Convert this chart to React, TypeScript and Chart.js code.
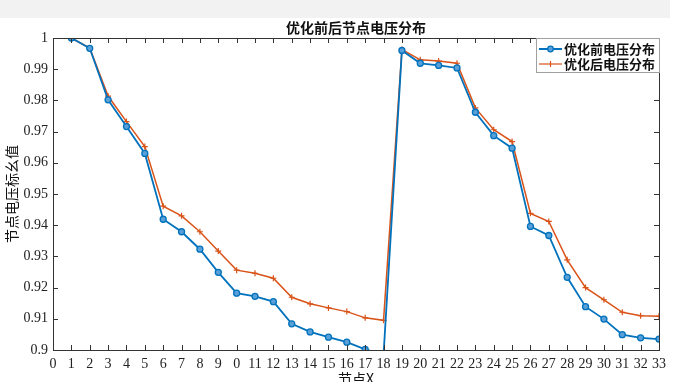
import React, { useEffect, useRef } from "react";
import { Chart, registerables } from "chart.js";

Chart.register(...registerables);

const nodes = [1,2,3,4,5,6,7,8,9,10,11,12,13,14,15,16,17,18,19,20,21,22,23,24,25,26,27,28,29,30,31,32,33];
const before = [1.0,0.9967,0.9802,0.9716,0.9630,0.9419,0.9379,0.9323,0.9249,0.9182,0.9172,0.9155,0.9084,0.9058,0.9041,0.9025,0.9002,0.8985,0.9960,0.9919,0.9912,0.9904,0.9762,0.9687,0.9647,0.9396,0.9367,0.9233,0.9139,0.9099,0.9049,0.9039,0.9035];
const after = [1.0,0.9968,0.9814,0.9732,0.9652,0.9461,0.9430,0.9379,0.9317,0.9256,0.9246,0.9230,0.9169,0.9148,0.9135,0.9123,0.9103,0.9095,0.9963,0.9930,0.9926,0.9919,0.9776,0.9706,0.9668,0.9438,0.9412,0.9289,0.9200,0.9161,0.9121,0.9110,0.9108];
const xTickLabels = ["0","1","2","3","4","5","6","7","8","9","0","11","12","13","14","15","16","17","18","19","20","21","22","23","24","25","26","27","28","29","30","31","32","33"];
const yTickValues = [0.9,0.91,0.92,0.93,0.94,0.95,0.96,0.97,0.98,0.99,1];
const yTickLabels = ["0.9","0.91","0.92","0.93","0.94","0.95","0.96","0.97","0.98","0.99","1"];
const seriesNames = ["优化前电压分布", "优化后电压分布"];
const titleText = "优化前后节点电压分布";
const xTitle = "节点X";
const yTitle = "节点电压标幺值";

const BLUE = "#0072BD";
const ORANGE = "#D95319";
const AXIS = "#333333";
const CJK = '"Noto Sans CJK SC", sans-serif';
const NUM = '"Liberation Serif", "DejaVu Serif", serif';

const decor = {
  id: "decor",
  beforeDraw(chart: any) {
    const ctx = chart.ctx;
    ctx.save();
    ctx.fillStyle = "#ffffff";
    ctx.fillRect(0, 0, chart.width, chart.height);
    ctx.fillStyle = "#f2f2f2";
    ctx.fillRect(0, 0, 670, 18);
    ctx.restore();
  },
  afterDraw(chart: any) {
    const ctx = chart.ctx;
    const a = chart.chartArea;
    const xs = chart.scales.x;
    const ys = chart.scales.y;
    ctx.save();
    // box
    ctx.strokeStyle = AXIS;
    ctx.lineWidth = 1;
    ctx.strokeRect(Math.round(a.left) + 0.5, Math.round(a.top) + 0.5, Math.round(a.right - a.left), Math.round(a.bottom - a.top));
    // inward ticks
    const tl = 5;
    ctx.beginPath();
    for (let i = 0; i < xTickLabels.length; i++) {
      const px = Math.round(xs.getPixelForValue(i)) + 0.5;
      ctx.moveTo(px, a.bottom);
      ctx.lineTo(px, a.bottom - tl);
      ctx.moveTo(px, a.top);
      ctx.lineTo(px, a.top + tl);
    }
    for (const v of yTickValues) {
      const py = Math.round(ys.getPixelForValue(v)) + 0.5;
      ctx.moveTo(a.left, py);
      ctx.lineTo(a.left + tl, py);
      ctx.moveTo(a.right, py);
      ctx.lineTo(a.right - tl, py);
    }
    ctx.stroke();
    // title
    ctx.fillStyle = "#111";
    ctx.textAlign = "center";
    ctx.textBaseline = "middle";
    ctx.font = "bold 14px " + CJK;
    ctx.fillText(titleText, (a.left + a.right) / 2, 28);
    // x title
    ctx.font = "14px " + CJK;
    ctx.fillText(xTitle, (a.left + a.right) / 2, 379);
    // y title
    ctx.save();
    ctx.translate(12, (a.top + a.bottom) / 2);
    ctx.rotate(-Math.PI / 2);
    ctx.font = "14px " + CJK;
    ctx.fillText(yTitle, 0, 0);
    ctx.restore();
    // legend
    const lx = 536, ly = Math.round(a.top) + 0.5, lw = 123, lh = 34;
    ctx.fillStyle = "#ffffff";
    ctx.fillRect(lx, ly, lw, lh);
    ctx.strokeStyle = "#a0a0a0";
    ctx.lineWidth = 1;
    ctx.strokeRect(lx + 0.5, ly, lw, lh);
    const rows = [49, 64];
    const cols = [BLUE, ORANGE];
    for (let i = 0; i < 2; i++) {
      const y = rows[i];
      ctx.strokeStyle = cols[i];
      ctx.lineWidth = i === 0 ? 2 : 1.2;
      ctx.beginPath();
      ctx.moveTo(539, y);
      ctx.lineTo(562, y);
      ctx.stroke();
      if (i === 0) {
        ctx.beginPath();
        ctx.arc(550.5, y, 2.8, 0, Math.PI * 2);
        ctx.fillStyle = "#5aa0d8";
        ctx.fill();
        ctx.lineWidth = 1.3;
        ctx.stroke();
      } else {
        ctx.beginPath();
        ctx.moveTo(550.5, y - 3);
        ctx.lineTo(550.5, y + 3);
        ctx.stroke();
      }
      ctx.fillStyle = "#111";
      ctx.textAlign = "left";
      ctx.font = "bold 13px " + CJK;
      ctx.fillText(seriesNames[i], 564, y);
    }
    ctx.restore();
  },
};

export default function App() {
  const ref = useRef<HTMLCanvasElement>(null);
  useEffect(() => {
    document.body.style.margin = "0";
    const chart = new Chart(ref.current!, {
      type: "line",
      data: {
        labels: nodes,
        datasets: [
          {
            label: seriesNames[0],
            data: nodes.map((n, i) => ({ x: n, y: before[i] })),
            borderColor: BLUE,
            backgroundColor: "#5aa0d8",
            borderWidth: 1.8,
            pointStyle: "circle",
            pointRadius: 3,
            pointBorderWidth: 1.3,
            pointBorderColor: BLUE,
            pointBackgroundColor: "#5aa0d8",
            tension: 0,
          },
          {
            label: seriesNames[1],
            data: nodes.map((n, i) => ({ x: n, y: after[i] })),
            borderColor: ORANGE,
            backgroundColor: ORANGE,
            borderWidth: 1.5,
            pointStyle: "cross",
            pointRadius: 3,
            pointBorderWidth: 1.2,
            pointBorderColor: ORANGE,
            tension: 0,
          },
        ],
      },
      options: {
        responsive: false,
        animation: false,
        events: [],
        layout: { padding: { left: 0, top: 38, right: 36, bottom: 0 } },
        plugins: { legend: { display: false }, title: { display: false }, tooltip: { enabled: false } },
        scales: {
          x: {
            type: "linear",
            min: 0,
            max: 33,
            afterFit: (s: any) => { s.height = 32; },
            afterBuildTicks: (s: any) => { s.ticks = xTickLabels.map((_, i) => ({ value: i })); },
            grid: { display: false, drawTicks: false },
            border: { display: true, color: AXIS },
            ticks: {
              autoSkip: false,
              maxRotation: 0,
              padding: 6,
              color: "#222",
              font: { family: NUM, size: 14 },
              callback: (v: any) => xTickLabels[Math.round(v)] ?? "",
            },
          },
          y: {
            type: "linear",
            min: 0.9,
            max: 1,
            afterFit: (s: any) => { s.width = 53; },
            afterBuildTicks: (s: any) => { s.ticks = yTickValues.map((v) => ({ value: v })); },
            grid: { display: false, drawTicks: false },
            border: { display: true, color: AXIS },
            ticks: {
              padding: 5,
              color: "#222",
              font: { family: NUM, size: 14 },
              callback: (v: any) => {
                const idx = yTickValues.findIndex((t) => Math.abs(t - v) < 1e-6);
                return idx >= 0 ? yTickLabels[idx] : "";
              },
            },
          },
        },
      },
      plugins: [decor],
    });
    return () => chart.destroy();
  }, []);
  return (
    <div style={{ position: "absolute", left: 0, top: 0, width: 695, height: 382 }}>
      <canvas ref={ref} width={695} height={382} style={{ width: 695, height: 382 }} />
    </div>
  );
}
